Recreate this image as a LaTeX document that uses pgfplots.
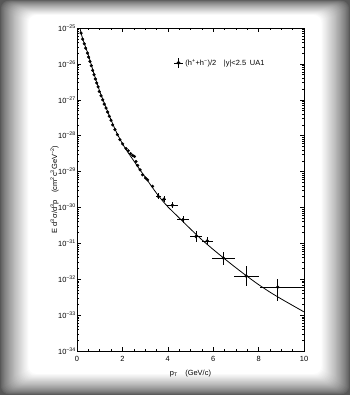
\documentclass[border=0pt]{standalone}
\usepackage{fontspec}
\setmainfont{Liberation Sans}
\usepackage{pgfplots}
\pgfplotsset{compat=1.18}
\usepackage{pgfplotstable}

\pgfplotstableread{
x y
0.18 7.24e-26
0.25 4.90e-26
0.32 3.63e-26
0.38 2.75e-26
0.46 2.00e-26
0.51 1.55e-26
0.57 1.175e-26
0.63 8.91e-27
0.69 6.61e-27
0.75 5.01e-27
0.81 3.80e-27
0.87 2.95e-27
0.93 2.29e-27
0.98 1.70e-27
1.06 1.29e-27
1.13 1.0e-27
1.20 7.59e-28
1.28 5.89e-28
1.35 4.57e-28
1.42 3.47e-28
1.50 2.69e-28
1.57 2.0e-28
1.67 1.48e-28
1.78 1.07e-28
1.89 7.76e-29
2.01 5.89e-29
2.16 4.37e-29
2.26 3.80e-29
2.36 3.16e-29
2.45 2.82e-29
2.53 2.63e-29
2.60 1.91e-29
2.67 1.48e-29
2.78 1.12e-29
2.89 8.13e-30
3.02 6.61e-30
3.11 5.89e-30
3.33 3.89e-30
}\densedata

\pgfplotstableread{
x y exm exp eyp eym
3.58 2.04e-30 0.10 0.10 0.202 0.168
3.83 1.70e-30 0.10 0.10 0.202 0.168
4.20 1.15e-30 0.25 0.25 0.202 0.168
4.67 4.57e-31 0.25 0.25 0.259 0.206
5.24 1.55e-31 0.25 0.25 0.413 0.292
5.74 1.17e-31 0.25 0.25 0.259 0.206
6.45 3.89e-32 0.50 0.50 0.514 0.339
7.45 1.23e-32 0.55 0.55 0.862 0.463
8.84 6.03e-33 0.78 1.16 0.738 0.602
}\errdata

\begin{document}
\begin{tikzpicture}[x=1bp,y=1bp]
\useasboundingbox (0,0) rectangle (350,395);
% vignette frame
\fill[black!66] (0,0) rectangle (350,395);
\foreach \i in {1,...,30}{
  \pgfmathsetmacro{\c}{max(0,66-66*(\i/30)^0.75)}
  \fill[black!\c, rounded corners=8bp] (0.95*\i,0.7*\i) rectangle (350-0.95*\i,395-0.5*\i);
}
\begin{axis}[
  at={(77bp,44bp)}, anchor=south west,
  scale only axis, width=227bp, height=323bp,
  xmin=0, xmax=10, ymin=1e-34, ymax=1e-25,
  ymode=log,
  axis line style={line width=0.7pt},
  tick style={black, line width=0.5pt},
  major tick length=4bp, minor tick length=2bp,
  xtick={0,2,4,6,8,10},
  minor x tick num=3,
  ytick={1e-34,1e-33,1e-32,1e-31,1e-30,1e-29,1e-28,1e-27,1e-26,1e-25},
  yticklabels={10\textsuperscript{−34},10\textsuperscript{−33},10\textsuperscript{−32},10\textsuperscript{−31},10\textsuperscript{−30},10\textsuperscript{−29},10\textsuperscript{−28},10\textsuperscript{−27},10\textsuperscript{−26},10\textsuperscript{−25}},
  ticklabel style={font=\fontsize{7.5}{8}\selectfont},
  yticklabel style={inner sep=1bp},
  xticklabel style={inner sep=1bp, yshift=-4bp},
  /pgf/number format/assume math mode=true,
  xlabel={p\textsubscript{T}\quad (GeV/c)},
  ylabel={E d\textsuperscript{3}σ/d\textsuperscript{3}p\quad (cm\textsuperscript{2}c\textsuperscript{3}GeV\textsuperscript{−2})},
  label style={font=\fontsize{7.5}{8}\selectfont},
  xlabel style={yshift=-4bp},
  ylabel style={yshift=-5bp},
  legend style={draw=none, fill=none, at={(0.425,0.892)}, anchor=west, font=\fontsize{7.5}{8}\selectfont, inner sep=0pt},
  legend cell align=left,
]
\addplot[black, line width=0.8pt, smooth, forget plot] coordinates {
(0.13,1e-25) (0.25,5.01e-26) (0.5,1.778e-26) (0.75,5.25e-27) (1,1.74e-27)
(1.25,6.76e-28) (1.5,2.75e-28) (1.75,1.20e-28) (2,6.03e-29) (2.25,3.39e-29)
(2.5,2.0e-29) (2.75,1.175e-29) (3,7.08e-30) (3.25,4.17e-30) (3.5,2.51e-30)
(3.75,1.585e-30) (4,1.047e-30) (4.5,5.13e-31) (5,2.51e-31) (5.5,1.26e-31)
(6,6.76e-32) (6.5,3.72e-32) (7,2.09e-32) (7.5,1.20e-32) (8,7.08e-33)
(8.5,4.37e-33) (9,2.82e-33) (9.5,1.86e-33) (10,1.23e-33)
};
\addplot[only marks, mark=*, mark size=1.4bp, black, forget plot] table[x=x,y=y] {\densedata};
\addplot[only marks, mark=*, mark size=1.5bp, black,
  legend image code/.code={
    \draw[line width=0.7pt] (0bp,0bp)--(9bp,0bp);
    \draw[line width=0.7pt] (4.5bp,-5bp)--(4.5bp,5bp);
    \fill (4.5bp,0bp) circle (1.7bp);},
  error bars/.cd, x dir=both, x explicit, y dir=both, y explicit relative,
  error mark=none, error bar style={line width=0.6pt, black}]
  table[x=x, y=y, x error plus=exp, x error minus=exm, y error plus=eyp, y error minus=eym] {\errdata};
\addlegendentry{(h\textsuperscript{+}+h\textsuperscript{−})/2\quad |y|<2.5\enspace UA1}
\end{axis}
\end{tikzpicture}
\end{document}
